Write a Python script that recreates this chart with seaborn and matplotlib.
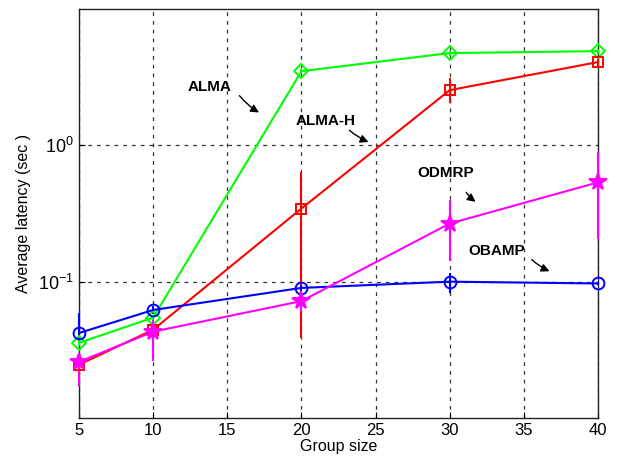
import matplotlib
matplotlib.use("Agg")
import matplotlib.pyplot as plt
import seaborn as sns
import pandas as pd

group_size = [5, 10, 20, 30, 40]

alma = [0.0356, 0.0545, 3.50, 4.75, 4.91]
alma_lo = [0.0335, 0.052, 3.35, 4.55, 4.70]
alma_hi = [0.0375, 0.057, 3.65, 4.95, 5.10]

alma_h = [0.0246, 0.0444, 0.344, 2.54, 4.08]
alma_h_lo = [0.0225, 0.040, 0.0387, 2.04, 3.68]
alma_h_hi = [0.027, 0.049, 0.633, 3.11, 4.44]

obamp = [0.042, 0.062, 0.090, 0.100, 0.097]
obamp_lo = [0.038, 0.058, 0.086, 0.082, 0.094]
obamp_hi = [0.059, 0.066, 0.094, 0.116, 0.100]

odmrp = [0.0258, 0.043, 0.072, 0.267, 0.535]
odmrp_lo = [0.0172, 0.0262, 0.060, 0.1426, 0.207]
odmrp_hi = [0.030, 0.052, 0.085, 0.394, 0.888]

series = [
    ("ALMA", alma, alma_lo, alma_hi, "#00ff00", "D", 7),
    ("ALMA-H", alma_h, alma_h_lo, alma_h_hi, "#ff0000", "s", 7),
    ("OBAMP", obamp, obamp_lo, obamp_hi, "#0000ff", "o", 8.5),
    ("ODMRP", odmrp, odmrp_lo, odmrp_hi, "#ff00ff", "*", 13),
]

# label text position, arrow tail, arrow head (data coords)
notes = [
    ("ALMA", (13.8, 2.66), (15.7, 2.40), (17.3, 1.70)),
    ("ALMA-H", (21.6, 1.52), (23.1, 1.33), (24.7, 1.04)),
    ("ODMRP", (29.7, 0.624), (31.0, 0.47), (31.9, 0.375)),
    ("OBAMP", (33.2, 0.168), (35.4, 0.150), (36.9, 0.117)),
]

sns.set_style("ticks")
plt.rcParams["font.family"] = ["Liberation Sans", "DejaVu Sans"]
plt.rcParams["text.color"] = "black"
plt.rcParams["axes.labelcolor"] = "black"
plt.rcParams["xtick.color"] = "black"
plt.rcParams["ytick.color"] = "black"

fig = plt.figure(figsize=(6.19, 4.66), dpi=100)
ax = fig.add_axes([79 / 619, 48 / 466, 519 / 619, 409 / 466])

for name, y, lo, hi, color, marker, ms in series:
    df = pd.DataFrame({"x": group_size, "y": y})
    ax.vlines(group_size, lo, hi, color=color, lw=1.5, zorder=3, clip_on=False)
    sns.lineplot(data=df, x="x", y="y", ax=ax, color=color, lw=1.5,
                 marker=marker, markersize=ms,
                 markerfacecolor=color if marker == "*" else "none",
                 markeredgecolor=color, markeredgewidth=1.4, zorder=4,
                 clip_on=False)

ax.set_yscale("log")
ax.set_xlim(5, 40)
ax.set_ylim(0.01, 10)
ax.set_xticks([5, 10, 15, 20, 25, 30, 35, 40])
ax.set_yticks([0.1, 1])
ax.set_yticklabels([r"$\mathregular{10^{-1}}$", r"$\mathregular{10^{0}}$"])
ax.minorticks_off()
ax.tick_params(direction="in", length=4, labelsize=12)
ax.tick_params(axis="y", labelsize=13)
ax.grid(True, color="black", linestyle=(0, (3, 4)), lw=0.9, alpha=0.8)
for s in ax.spines.values():
    s.set_visible(True)
    s.set_color("#222222")
    s.set_linewidth(1.0)
    s.set_zorder(2)

ax.set_xlabel("Group size", fontsize=11.5, labelpad=1)
ax.set_ylabel("Average latency (sec )", fontsize=11.5, labelpad=5)

for text, tpos, tail, head in notes:
    ax.text(tpos[0], tpos[1], text, fontsize=11, fontweight="bold",
            ha="center", va="center")
    ax.annotate("", xy=head, xytext=tail,
                arrowprops=dict(arrowstyle="-|>", color="black", lw=1.0,
                                mutation_scale=12,
                                connectionstyle="arc3,rad=0.1"))

fig.savefig("out.png", dpi=100)
